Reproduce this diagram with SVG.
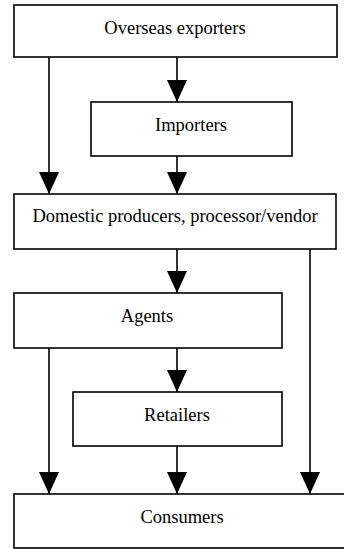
<svg xmlns="http://www.w3.org/2000/svg" width="344" height="549" viewBox="0 0 344 549">
<style>
.box{fill:#fff;stroke:#000;stroke-width:1.6}
.lbl{font-family:"Liberation Serif","Times New Roman",serif;font-size:18.5px;fill:#000;text-anchor:middle}
.ln{stroke:#000;stroke-width:1.6;fill:none}
.arr{marker-end:url(#arr)}
</style>
<defs>
<marker id="arr" markerUnits="userSpaceOnUse" markerWidth="22" markerHeight="20" refX="22" refY="10" orient="auto" viewBox="0 0 22 20">
<path d="M0,0 L22,10 L0,20 Z" fill="#000"/>
</marker>
</defs>
<g id="connectors">
<line class="ln arr" x1="177" y1="57" x2="177" y2="102"/>
<line class="ln arr" x1="49" y1="57" x2="49" y2="194"/>
<line class="ln arr" x1="177" y1="156" x2="177" y2="194"/>
<line class="ln arr" x1="177" y1="249" x2="177" y2="293"/>
<line class="ln arr" x1="310" y1="249" x2="310" y2="494"/>
<line class="ln arr" x1="49" y1="348" x2="49" y2="494"/>
<line class="ln arr" x1="177" y1="348" x2="177" y2="392"/>
<line class="ln arr" x1="177" y1="446" x2="177" y2="494"/>
</g>
<g id="overseas">
<rect class="box" x="14" y="5" width="323" height="52"/>
<text class="lbl" x="175" y="33.5">Overseas exporters</text>
</g>
<g id="importers">
<rect class="box" x="91" y="102" width="201" height="54"/>
<text class="lbl" x="191" y="130.5">Importers</text>
</g>
<g id="domestic">
<rect class="box" x="14" y="194" width="322" height="55"/>
<text class="lbl" x="175" y="222">Domestic producers, processor/vendor</text>
</g>
<g id="agents">
<rect class="box" x="14" y="293" width="268" height="55"/>
<text class="lbl" x="147" y="322">Agents</text>
</g>
<g id="retailers">
<rect class="box" x="73" y="392" width="209" height="54"/>
<text class="lbl" x="177" y="420.5">Retailers</text>
</g>
<g id="consumers">
<rect class="box" x="14" y="494" width="336" height="54"/>
<text class="lbl" x="182" y="522.5">Consumers</text>
</g>
</svg>
